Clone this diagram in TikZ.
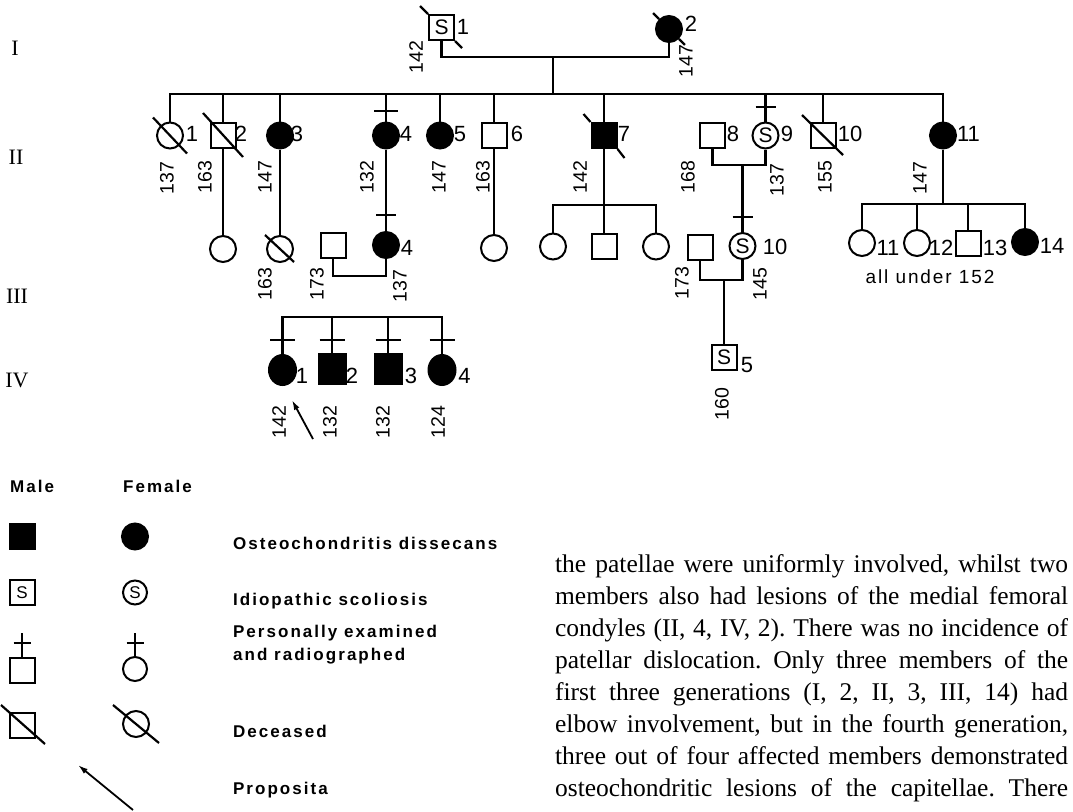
\documentclass[tikz,border=0pt]{standalone}
\usepackage{fontspec}
\setmainfont{Liberation Serif}
\newfontfamily\labfont{Liberation Sans}
\newfontfamily\labwide[LetterSpace=10]{Liberation Sans}
\newfontfamily\legfont[LetterSpace=12]{Liberation Sans Bold}
\usetikzlibrary{arrows.meta,shapes.geometric}
\begin{document}
\begin{tikzpicture}[x=1pt,y=-1pt,line width=2.2pt,
  male/.style={draw,rectangle,minimum size=25pt,inner sep=0pt,fill=white,line width=2pt},
  female/.style={draw,circle,minimum size=26pt,inner sep=0pt,fill=white,line width=2pt},
  fem4/.style={draw,ellipse,minimum width=27pt,minimum height=30pt,inner sep=0pt,line width=2pt},
  male4/.style={draw,rectangle,minimum width=27pt,minimum height=30pt,inner sep=0pt,line width=2pt},
  aff/.style={fill=black},
  sfont/.style={font=\labfont\fontsize{21}{21}\selectfont},
  sfontsm/.style={font=\labfont\fontsize{17}{17}\selectfont},
  idl/.style={font=\labfont\fontsize{22}{22}\selectfont,inner sep=0pt},
  hl/.style={font=\labfont\fontsize{19.5}{19.5}\selectfont,inner sep=0pt,rotate=90},
  gen/.style={font=\fontsize{22}{22}\selectfont,inner sep=0pt},
  legtext/.style={font=\legfont\fontsize{17}{23}\selectfont,inner sep=0pt,anchor=base west,align=left},
  ptr/.style={-{Latex[length=10pt,width=6pt]},line width=1.8pt}
]
\useasboundingbox (0,0) rectangle (1073,811);

% generation numerals
\node[gen] (gI) at (15,48) {I};
\node[gen] (gII) at (16,157) {II};
\node[gen] (gIII) at (17,296) {III};
\node[gen] (gIV) at (17,380) {IV};

% ---------------- Generation I
\node[male,sfont] (I1) at (441.5,27.5) {S};
\node[female,aff] (I2) at (669,29) {};
\draw (I1.north west) -- ++(-8,-8);
\draw (I1.south east) -- ++(7,7);
\draw (I2.135) -- ++(-6,-6);
\draw (I2.-45) -- ++(6,6);
\node[idl] (lI1) at (463,27) {1};
\node[idl] (lI2) at (691,24) {2};
\node[hl] (hI1) at (416,57) {142};
\node[hl] (hI2) at (686,61) {147};
\coordinate (mI) at (553,57);
\coordinate (sibII) at (553,94);
\draw (I1.south) |- (mI) -| (I2.south);
\draw (mI) -- (sibII);

% ---------------- Generation II
\node[female] (II1) at (170,135.5) {};
\node[male] (II2) at (223,135.5) {};
\node[female,aff] (II3) at (280,135.5) {};
\node[female,aff] (II4) at (386,135.5) {};
\node[female,aff] (II5) at (440,135.5) {};
\node[male] (II6) at (494,135.5) {};
\node[male,aff] (II7) at (604,135.5) {};
\node[male] (II8) at (712.5,135.5) {};
\node[female,sfont] (II9) at (765.5,135.5) {S};
\node[male] (II10) at (823,135.5) {};
\node[female,aff] (II11) at (943,135.5) {};

\draw (II1.north) |- (sibII) -| (II11.north);
\foreach \n in {II2,II3,II4,II5,II6,II7,II9,II10}
  \draw (\n.north) -- (\n.north |- sibII);
% examined bars
\draw ([yshift=10.5pt]II4.north) +(-12,0) -- +(12,0);
\draw ([yshift=14.5pt]II9.north) +(-10,0) -- +(10,0);
% deceased
\draw ([shift={(-17,-18)}]II1.center) -- ([shift={(17,18)}]II1.center);
\draw ([shift={(-20,-22.5)}]II2.center) -- ([shift={(20,21.5)}]II2.center);
\draw ([shift={(-21,-20.5)}]II10.center) -- ([shift={(20,19.5)}]II10.center);
\draw (II7.north west) -- ++(-7,-8);
\draw (II7.south east) -- ++(7,9);

\node[idl] (lII1) at (192,134) {1};
\node[idl] (lII2) at (241,134) {2};
\node[idl] (lII3) at (297,134) {3};
\node[idl] (lII4) at (406,134) {4};
\node[idl] (lII5) at (460,134) {5};
\node[idl] (lII6) at (517,134) {6};
\node[idl] (lII7) at (624,134) {7};
\node[idl] (lII8) at (733,134) {8};
\node[idl] (lII9) at (787,134) {9};
\node[idl] (lII10) at (850,134) {10};
\node[idl] (lII11) at (968.5,134) {11};

\node[hl] (hII1) at (167,178) {137};
\node[hl] (hII2) at (205,177) {163};
\node[hl] (hII3) at (265,177) {147};
\node[hl] (hII4) at (367,177) {132};
\node[hl] (hII5) at (439,177) {147};
\node[hl] (hII6) at (483,177) {163};
\node[hl] (hII7) at (580,177) {142};
\node[hl] (hII8) at (688,177) {168};
\node[hl] (hII9) at (777,180) {137};
\node[hl] (hII10) at (825,177) {155};
\node[hl] (hII11) at (920,178) {147};

% ---------------- Generation III
\node[female] (IIIa) at (223,249) {};
\node[female] (IIIb) at (280,249) {};
\node[male] (H34) at (333,245.5) {};
\node[female,aff] (III4) at (386,245) {};
\node[female] (IIIc) at (494,248) {};
\node[female] (III7a) at (553,246.5) {};
\node[male] (III7b) at (604,246.5) {};
\node[female] (III7c) at (656,246.5) {};
\node[male] (H310) at (700,247) {};
\node[female,sfont] (III10) at (742.5,246) {S};
\node[female] (III11) at (862,243) {};
\node[female] (III12) at (917,243) {};
\node[male] (III13) at (968,243) {};
\node[female,aff] (III14) at (1025,242) {};

\draw (II2.south) -- (IIIa.north);
\draw (II3.south) -- (IIIb.north);
\draw ([shift={(-15,-14)}]IIIb.center) -- ([shift={(14,13)}]IIIb.center);
\draw (II4.south) -- (III4.north);
\draw ([yshift=16pt]III4.north) +(-10,0) -- +(10,0);
\draw (II6.south) -- (IIIc.north);
\coordinate (sib7) at (604,205);
\draw (II7.south) -- (III7b.north);
\draw (III7a.north) |- (sib7) -| (III7c.north);
\coordinate (m89) at (742.5,165);
\draw (II8.south) |- (m89) -| (II9.south);
\draw (m89) -- (III10.north);
\draw ([yshift=15pt]III10.north) +(-10,0) -- +(10,0);
\coordinate (sib11) at (943,204);
\draw (II11.south) -- (sib11);
\draw (III11.north) |- (sib11) -| (III14.north);
\draw (III12.north) -- (III12.north |- sib11);
\draw (III13.north) -- (III13.north |- sib11);
\coordinate (m34) at (360,276);
\draw (H34.south) |- (m34) -| (III4.south);
\coordinate (m310) at (724,280);
\draw (H310.south) |- (m310) -| (III10.south);

\node[idl] (lIII4) at (407,248) {4};
\node[idl] (lIII10) at (775,247) {10};
\node[idl] (lIII11) at (888,248) {11};
\node[idl] (lIII12) at (941,248) {12};
\node[idl] (lIII13) at (995,248) {13};
\node[idl] (lIII14) at (1052,246) {14};
\node[font=\labwide\fontsize{19}{19}\selectfont,inner sep=0pt] (under) at (930,277) {all under 152};
\node[hl] (hIIIb) at (265,284) {163};
\node[hl] (hH34) at (317,284) {173};
\node[hl] (hIII4) at (400,286) {137};
\node[hl] (hH310) at (682,283) {173};
\node[hl] (hIII10) at (760,284) {145};

% ---------------- Generation IV
\node[fem4,aff] (IV1) at (282.5,370) {};
\node[male4,aff] (IV2) at (332,368.5) {};
\node[male4,aff] (IV3) at (388,368.5) {};
\node[fem4,aff] (IV4) at (442,370) {};
\node[male,sfont] (IV5) at (724,357) {S};
\coordinate (sib4) at (362,317);
\draw (IV1.north) |- (sib4) -| (IV4.north);
\draw (IV2.north) -- (IV2.north |- sib4);
\draw (IV3.north) -- (IV3.north |- sib4);
\draw ([yshift=14pt]IV1.north) +(-12.5,0) -- +(12.5,0);
\draw ([yshift=12.5pt]IV2.north) +(-12.5,0) -- +(12.5,0);
\draw ([yshift=12.5pt]IV3.north) +(-12.5,0) -- +(12.5,0);
\draw ([yshift=14pt]IV4.north) +(-12.5,0) -- +(12.5,0);
\draw (m310) -- (IV5.north);

\node[idl] (lIV1) at (302,376) {1};
\node[idl] (lIV2) at (352,376) {2};
\node[idl] (lIV3) at (411,376) {3};
\node[idl] (lIV4) at (464.5,376) {4};
\node[idl] (lIV5) at (747,365) {5};
\node[hl] (hIV1) at (279,422) {142};
\node[hl] (hIV2) at (330,422) {132};
\node[hl] (hIV3) at (383,422) {132};
\node[hl] (hIV4) at (438,422) {124};
\node[hl] (hIV5) at (722,404) {160};
\coordinate (arS) at (313,439);
\coordinate (arT) at (292,400);
\draw[ptr] (arS) -- (arT);

% ---------------- Legend
\node[legtext] (tMale) at (9,492) {Male};
\node[legtext] (tFemale) at (122,492) {Female};
\node[male,aff] (Lm1) at (22.5,536) {};
\node[female,aff] (Lf1) at (135,536.5) {};
\node[legtext] (t1) at (232,549) {Osteochondritis dissecans};
\node[male,sfontsm,minimum size=25pt] (Lm2) at (22,592.5) {S};
\node[female,sfontsm,minimum size=24pt] (Lf2) at (135,592.5) {S};
\node[legtext] (t2) at (232,605) {Idiopathic scoliosis};
\node[male] (Lm3) at (22,670.5) {};
\node[female,minimum size=24pt] (Lf3) at (135,669) {};
\coordinate (Lm3t) at (22,633);
\coordinate (Lf3t) at (135,633);
\draw (Lm3.north) -- (Lm3t);
\draw (Lf3.north) -- (Lf3t);
\draw ([yshift=14pt]Lm3.north) +(-8.5,0) -- +(8.5,0);
\draw ([yshift=13pt]Lf3.north) +(-8.5,0) -- +(8.5,0);
\node[legtext] (t3) at (232,660.5) {Personally examined\\and radiographed};
\node[male] (Lm4) at (22,725) {};
\node[female] (Lf4) at (136,724) {};
\draw ([shift={(-21,-20)}]Lm4.center) -- ([shift={(23,19)}]Lm4.center);
\draw ([shift={(-23,-19)}]Lf4.center) -- ([shift={(23,19)}]Lf4.center);
\node[legtext] (t4) at (232,737) {Deceased};
\coordinate (LaS) at (133,810);
\coordinate (LaT) at (78,765);
\draw[ptr] (LaS) -- (LaT);
\node[legtext] (t5) at (232,794) {Proposita};

% ---------------- Paragraph
\node[anchor=north west,inner sep=0pt,font=\fontsize{25.5}{32}\selectfont] (para) at (554,553)
{\parbox[t]{513pt}{\frenchspacing\parfillskip=0pt\hyphenpenalty=10000\parindent=0pt
the patellae were uniformly involved, whilst two\linebreak
members also had lesions of the medial femoral\linebreak
condyles (II, 4, IV, 2). There was no incidence of\linebreak
patellar dislocation. Only three members of the\linebreak
first three generations (I, 2, II, 3, III, 14) had\linebreak
elbow involvement, but in the fourth generation,\linebreak
three out of four affected members demonstrated\linebreak
osteochondritic lesions of the capitellae. There\par}};
\end{tikzpicture}
\end{document}
